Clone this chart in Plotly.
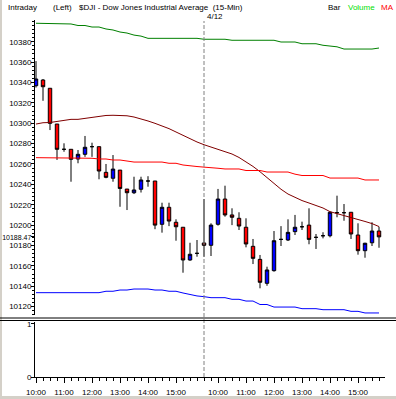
import plotly.graph_objects as go

# ---- data (15-min bars, 4/11 10:00 .. 4/12 15:45) ----
bar_index = list(range(50))
opens = [10336.8, 10342.4, 10334.3, 10299.2, 10274.4, 10274.4, 10264.9, 10269.5, 10277.0, 10277.0,
         10251.8, 10246.0, 10254.0, 10235.4, 10231.8, 10235.2, 10243.3, 10243.3, 10200.8, 10217.5,
         10202.8, 10197.9, 10165.8, 10172.3, 10182.5, 10180.2, 10200.8, 10225.6, 10210.0, 10206.7,
         10197.9, 10179.2, 10166.4, 10142.9, 10155.3, 10186.0, 10185.4, 10193.6, 10198.4, 10200.0,
         10188.0, 10189.6, 10189.6, 10212.2, 10212.2, 10212.6, 10190.3, 10174.9, 10182.7, 10194.2]
highs = [10361.0, 10343.4, 10334.3, 10299.2, 10280.3, 10274.4, 10273.7, 10287.5, 10280.9, 10277.0,
         10260.0, 10268.8, 10254.0, 10235.4, 10247.5, 10247.5, 10248.0, 10243.3, 10222.0, 10222.0,
         10205.7, 10197.9, 10182.7, 10185.4, 10225.6, 10201.8, 10235.5, 10238.7, 10216.5, 10212.6,
         10206.7, 10186.4, 10170.7, 10159.2, 10194.2, 10199.0, 10205.7, 10210.0, 10203.4, 10216.5,
         10191.3, 10193.0, 10213.2, 10228.9, 10220.7, 10212.6, 10201.8, 10182.7, 10202.8, 10198.4]
lows = [10335.0, 10322.0, 10293.3, 10264.0, 10272.0, 10242.6, 10260.7, 10267.0, 10267.0, 10245.0,
        10246.0, 10242.6, 10218.0, 10214.8, 10230.5, 10232.0, 10237.7, 10196.0, 10192.6, 10199.0,
        10184.7, 10153.3, 10165.0, 10169.0, 10169.0, 10169.7, 10199.5, 10208.3, 10200.0, 10195.2,
        10178.2, 10161.8, 10138.0, 10140.5, 10154.3, 10179.5, 10184.4, 10190.3, 10195.2, 10181.2,
        10176.6, 10187.0, 10188.0, 10207.7, 10204.3, 10186.4, 10171.0, 10168.0, 10179.5, 10177.8]
closes = [10343.4, 10335.8, 10299.9, 10274.4, 10274.4, 10264.6, 10269.5, 10276.4, 10277.0, 10253.1,
          10246.9, 10255.0, 10236.0, 10231.8, 10234.5, 10244.3, 10243.3, 10200.0, 10217.5, 10204.0,
          10198.4, 10165.8, 10171.4, 10172.3, 10180.2, 10200.0, 10225.6, 10210.0, 10207.7, 10199.1,
          10181.5, 10167.4, 10143.9, 10156.0, 10184.7, 10186.0, 10192.9, 10197.9, 10198.4, 10186.0,
          10188.0, 10189.6, 10212.6, 10212.2, 10212.2, 10191.3, 10174.9, 10182.2, 10194.2, 10188.47]

upper_band = [10398.1, 10398.1, 10398.1, 10398.1, 10397.4, 10397.4, 10395.9, 10395.9, 10394.4, 10394.4,
              10392.5, 10391.5, 10389.5, 10388.5, 10386.5, 10385.5, 10383.3, 10383.3, 10383.3, 10383.3,
              10383.3, 10383.3, 10383.3, 10383.3, 10382.4, 10382.4, 10382.4, 10382.4, 10381.4, 10381.4,
              10381.4, 10381.4, 10381.4, 10381.4, 10381.4, 10379.7, 10379.7, 10379.7, 10378.0, 10378.0,
              10378.0, 10376.5, 10375.5, 10375.0, 10372.8, 10372.8, 10372.8, 10372.8, 10372.8, 10373.8]
ma_short = [10299.2, 10300.5, 10300.7, 10301.9, 10303.0, 10303.8, 10303.8, 10304.8, 10306.1, 10307.1,
            10307.6, 10307.8, 10307.8, 10307.3, 10306.1, 10304.5, 10302.2, 10299.9, 10297.4, 10294.7,
            10291.4, 10288.0, 10284.5, 10281.6, 10278.9, 10276.7, 10274.9, 10272.7, 10269.8, 10266.4,
            10262.4, 10257.6, 10252.4, 10246.7, 10241.0, 10235.2, 10230.5, 10227.1, 10224.1, 10221.7,
            10219.3, 10216.8, 10213.2, 10211.4, 10209.4, 10207.5, 10205.5, 10203.6, 10201.5, 10198.6]
ma_long = [10266.2, 10266.2, 10266.2, 10266.2, 10265.6, 10265.6, 10265.6, 10265.6, 10265.6, 10264.9,
           10264.9, 10263.9, 10263.9, 10262.9, 10261.9, 10261.9, 10261.9, 10261.9, 10261.9, 10260.7,
           10260.7, 10259.0, 10258.0, 10257.5, 10256.9, 10256.7, 10255.8, 10255.1, 10255.1, 10255.1,
           10253.6, 10253.6, 10253.6, 10252.1, 10252.1, 10252.1, 10252.1, 10250.0, 10248.7, 10248.7,
           10248.7, 10248.7, 10246.2, 10246.2, 10246.2, 10246.2, 10246.2, 10244.3, 10244.3, 10244.3]
lower_band = [10133.7, 10133.7, 10133.7, 10133.7, 10133.7, 10133.7, 10133.7, 10133.7, 10133.7, 10133.7,
              10135.1, 10135.1, 10136.3, 10136.3, 10137.3, 10137.3, 10137.3, 10136.3, 10136.3, 10135.1,
              10135.1, 10133.4, 10131.7, 10130.5, 10129.8, 10128.8, 10128.8, 10128.8, 10127.2, 10127.2,
              10125.5, 10125.5, 10122.1, 10122.1, 10119.6, 10119.6, 10119.6, 10119.6, 10118.0, 10118.0,
              10118.0, 10117.0, 10117.0, 10117.0, 10117.0, 10115.4, 10115.4, 10113.8, 10113.8, 10113.8]

hour_ticks = [0, 4, 8, 12, 16, 20, 26, 30, 34, 38, 42, 46]
hour_labels = ["10:00", "11:00", "12:00", "13:00", "14:00", "15:00",
               "10:00", "11:00", "12:00", "13:00", "14:00", "15:00"]
price_ticks = [10120, 10140, 10160, 10180, 10200, 10220, 10240, 10260, 10280,
               10300, 10320, 10340, 10360, 10380]
last_price = 10188.47
day_break = 24

W, H = 396, 399
FONT = "Liberation Sans"

def px_x(p):
    return p / W

def px_y(p):
    return 1 - p / H

fig = go.Figure()

for vals, col in [(upper_band, "#008000"), (ma_short, "#800000"),
                  (ma_long, "#ff0000"), (lower_band, "#0000ff")]:
    fig.add_trace(go.Scatter(x=bar_index, y=vals, mode="lines",
                             line=dict(color=col, width=1, shape="linear"),
                             xaxis="x", yaxis="y", hoverinfo="skip"))

fig.add_trace(go.Candlestick(
    x=bar_index, open=opens, high=highs, low=lows, close=closes,
    increasing=dict(fillcolor="#0000ff", line=dict(color="black", width=1)),
    decreasing=dict(fillcolor="#ff0000", line=dict(color="black", width=1)),
    whiskerwidth=0, xaxis="x", yaxis="y", hoverinfo="skip"))

# empty volume panel anchor
fig.add_trace(go.Scatter(x=[0], y=[0], mode="markers", marker=dict(opacity=0),
                         xaxis="x2", yaxis="y2", hoverinfo="skip"))

xr = [-1 / 7, (385 - 36) / 7]
xdom = [px_x(35), px_x(385)]
tickfont = dict(family=FONT, size=8, color="black")

last_label = '<span style="font-size:7px">%.2f</span>' % last_price

fig.update_layout(
    template="none",
    width=W, height=H,
    margin=dict(l=0, r=0, t=0, b=0, pad=0, autoexpand=False),
    paper_bgcolor="white", plot_bgcolor="white",
    showlegend=False, boxgap=0.3, hovermode=False,
    font=dict(family=FONT, size=8, color="black"),
    xaxis=dict(domain=xdom, range=xr, anchor="y", showticklabels=False,
               ticks="", showgrid=False, zeroline=False, showline=False,
               automargin=False, rangeslider=dict(visible=False)),
    yaxis=dict(domain=[px_y(315), px_y(20)], range=[10111.8, 10401.3],
               anchor="x", tickmode="array", automargin=False,
               tickvals=price_ticks + [last_price],
               ticktext=[str(v) for v in price_ticks] + [last_label],
               ticks="outside", ticklen=3, tickcolor="black", tickwidth=1,
               ticklabelstandoff=-2,
               minor=dict(dtick=4, tick0=0, ticks="outside", ticklen=2,
                          tickcolor="black", tickwidth=1, showgrid=False),
               showgrid=False, zeroline=False, showline=True,
               linecolor="black", linewidth=1, tickfont=tickfont),
    xaxis2=dict(domain=xdom, range=xr, anchor="y2", tickmode="array",
                tickvals=hour_ticks, ticktext=hour_labels, automargin=False,
                ticks="outside", ticklen=5, tickcolor="black", tickwidth=1,
                minor=dict(dtick=1, tick0=0, ticks="outside", ticklen=2.5,
                           tickcolor="black", tickwidth=1, showgrid=False),
                showgrid=False, zeroline=False, showline=True,
                linecolor="black", linewidth=1, tickfont=tickfont,
                ticklabelstandoff=2),
    yaxis2=dict(domain=[px_y(377), px_y(321.7)], range=[0, 1.04], anchor="x2",
                tickmode="array", tickvals=[0, 1], ticktext=["0", "1"],
                ticks="outside", ticklen=3, tickcolor="black", automargin=False,
                ticklabelstandoff=-2,
                showgrid=False, zeroline=False, showline=True,
                linecolor="black", linewidth=1, tickfont=tickfont),
)

shapes = [
    # day separator
    dict(type="line", xref="x", yref="paper", x0=day_break, x1=day_break,
         y0=px_y(377), y1=px_y(21), line=dict(color="#808080", width=1, dash="4px,2px")),
    # double separator lines between panels
    dict(type="line", xref="paper", yref="paper", x0=0, x1=1,
         y0=px_y(318), y1=px_y(318), line=dict(color="black", width=1)),
    dict(type="line", xref="paper", yref="paper", x0=0, x1=1,
         y0=px_y(320.5), y1=px_y(320.5), line=dict(color="black", width=1)),
    # window frame strips
    dict(type="rect", xref="paper", yref="paper", x0=0, x1=px_x(2), y0=0, y1=1,
         fillcolor="#d4d0c8", line=dict(width=0), layer="below"),
    dict(type="rect", xref="paper", yref="paper", x0=0, x1=1, y0=0, y1=px_y(396),
         fillcolor="#d4d0c8", line=dict(width=0), layer="above"),
]
fig.update_layout(shapes=shapes)

def label(text, x, y, color="black", anchor="left"):
    fig.add_annotation(text=text, xref="paper", yref="paper", x=px_x(x), y=px_y(y),
                       xanchor=anchor, yanchor="middle", showarrow=False,
                       borderpad=0, font=dict(family=FONT, size=8, color=color))

label("Intraday", 7, 7)
label("(Left)", 52, 7)
label("$DJI - Dow Jones Industrial Average  (15-Min)", 78, 7)
label("Bar", 327, 7)
label("Volume", 347, 7, color="#00e000")
label("MA", 395, 7, color="#ff0000", anchor="right")
label("4/12", 215, 16, anchor="center")

fig.write_html("out.html", config={"displayModeBar": False, "staticPlot": True})

# remove the browser's default page margin so the figure sits at the window origin
with open("out.html", "r", encoding="utf-8") as f:
    page = f.read()
page = page.replace("<head>", "<head><style>html,body{margin:0;padding:0;overflow:hidden;}</style>", 1)
with open("out.html", "w", encoding="utf-8") as f:
    f.write(page)
